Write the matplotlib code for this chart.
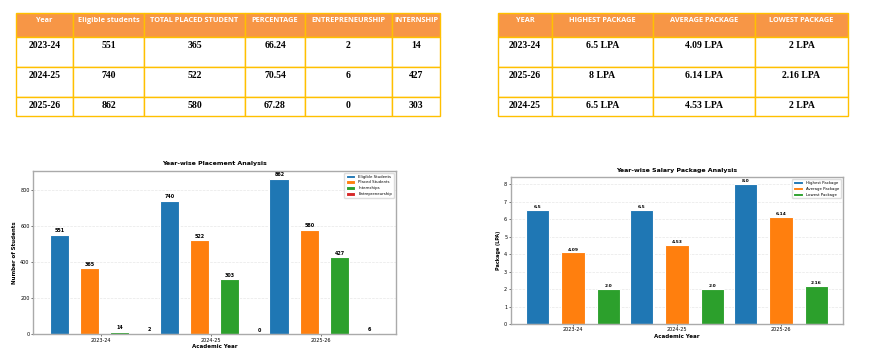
import numpy as np
import matplotlib.pyplot as plt
from matplotlib.patches import Rectangle

# placement table
years = ['2023-24', '2024-25', '2025-26']
eligible = [551, 740, 862]
placed = [365, 522, 580]
percentage = ['66.24', '70.54', '67.28']
entre_table = [2, 6, 0]
intern_table = [14, 427, 303]
place_headers = ['Year', 'Eligible students', 'TOTAL PLACED STUDENT', 'PERCENTAGE',
                 'ENTREPRENEURSHIP', 'INTERNSHIP']

# package table
pkg_years = ['2023-24', '2025-26', '2024-25']
pkg_high = ['6.5 LPA', '8 LPA', '6.5 LPA']
pkg_avg = ['4.09 LPA', '6.14 LPA', '4.53 LPA']
pkg_low = ['2 LPA', '2.16 LPA', '2 LPA']
pkg_headers = ['YEAR', 'HIGHEST PACKAGE', 'AVERAGE PACKAGE', 'LOWEST PACKAGE']

# chart data (as plotted)
chart_years = ['2023-24', '2024-25', '2025-26']
internships = [14, 303, 427]
entrepreneurship = [2, 0, 6]
high = [6.5, 6.5, 8.0]
avg = [4.09, 4.53, 6.14]
low = [2.0, 2.0, 2.16]

ORANGE = '#f79646'
GOLD = '#ffc000'

fig = plt.figure(figsize=(8.7, 3.6), dpi=100)

# overlay axes in pixel coordinates for the two tables
tax = fig.add_axes([0, 0, 1, 1])
tax.set_xlim(0, 870)
tax.set_ylim(360, 0)
tax.axis('off')


def draw_table(ax, col_edges, headers, rows, top=13, head_h=24, row_h=(30, 30, 19)):
    # header
    for i, h in enumerate(headers):
        x0, x1 = col_edges[i], col_edges[i + 1]
        ax.add_patch(Rectangle((x0, top), x1 - x0, head_h, facecolor=ORANGE,
                               edgecolor=GOLD, lw=1))
        ax.text((x0 + x1) / 2, top + 8, h, color='white', fontsize=5.3,
                ha='center', va='center', family='Open Sans', fontweight='bold')
    y = top + head_h
    for r, row in enumerate(rows):
        for i, val in enumerate(row):
            x0, x1 = col_edges[i], col_edges[i + 1]
            ax.add_patch(Rectangle((x0, y), x1 - x0, row_h[r], facecolor='white',
                                   edgecolor=GOLD, lw=1))
            ax.text((x0 + x1) / 2, y + 8, str(val), color='black', fontsize=7,
                    ha='center', va='center', family='Liberation Serif',
                    fontweight='bold')
        y += row_h[r]


place_rows = list(zip(years, eligible, placed, percentage, entre_table, intern_table))
draw_table(tax, [16, 73, 144, 245, 305, 392, 440], place_headers, place_rows)

pkg_rows = list(zip(pkg_years, pkg_high, pkg_avg, pkg_low))
draw_table(tax, [498, 552, 653, 755, 848], pkg_headers, pkg_rows)


def style_axes(ax):
    for s in ax.spines.values():
        s.set_color('#aaaaaa')
        s.set_linewidth(1.0)
    ax.grid(axis='y', linestyle='--', alpha=0.3, lw=0.5)
    ax.set_axisbelow(True)
    ax.tick_params(labelsize=3.5, length=1.5, width=0.4, pad=1)


# placement chart
ax1 = fig.add_axes([0.038, 0.072, 0.417, 0.453])
x = np.arange(len(chart_years))
series1 = [(eligible, 'Eligible Students', '#1f77b4'),
           (placed, 'Placed Students', '#ff7f0e'),
           (internships, 'Internships', '#2ca02c'),
           (entrepreneurship, 'Entrepreneurship', '#d62728')]
step = 0.273
for i, (vals, lab, col) in enumerate(series1):
    bars = ax1.bar(x + (i - 1.5) * step + 0.03, vals, 0.18, label=lab, color=col,
                   edgecolor='white', linewidth=0.8)
    for b, v in zip(bars, vals):
        ax1.text(b.get_x() + b.get_width() / 2, v + 8, str(v), ha='center',
                 va='bottom', fontsize=3.5, fontweight='bold')
ax1.set_xticks(x)
ax1.set_xticklabels(chart_years)
ax1.set_ylim(0, max(eligible) * 1.05)
ax1.set_title('Year-wise Placement Analysis', fontsize=4.5, fontweight='bold', pad=4)
ax1.set_xlabel('Academic Year', fontsize=4, fontweight='bold', labelpad=1)
ax1.set_ylabel('Number of Students', fontsize=4, fontweight='bold', labelpad=2)
style_axes(ax1)
ax1.legend(loc='upper right', fontsize=2.8, handlelength=2.5, handleheight=0.9,
           frameon=True, framealpha=1, edgecolor='#dddddd')

# package chart
ax2 = fig.add_axes([0.587, 0.1, 0.382, 0.408])
series2 = [(high, 'Highest Package', '#1f77b4'),
           (avg, 'Average Package', '#ff7f0e'),
           (low, 'Lowest Package', '#2ca02c')]
step2 = 0.34
for i, (vals, lab, col) in enumerate(series2):
    bars = ax2.bar(x + (i - 1) * step2, vals, 0.225, label=lab, color=col,
                   edgecolor='white', linewidth=0.8)
    for b, v in zip(bars, vals):
        ax2.text(b.get_x() + b.get_width() / 2, v + 0.05, f'{v:g}' if v != int(v) else f'{v:.1f}',
                 ha='center', va='bottom', fontsize=3.2, fontweight='bold')
ax2.set_xticks(x)
ax2.set_xticklabels(chart_years)
ax2.set_ylim(0, max(high) * 1.05)
ax2.set_title('Year-wise Salary Package Analysis', fontsize=4.5, fontweight='bold', pad=4)
ax2.set_xlabel('Academic Year', fontsize=4, fontweight='bold', labelpad=1)
ax2.set_ylabel('Package (LPA)', fontsize=3.5, fontweight='bold', labelpad=2)
style_axes(ax2)
ax2.legend(loc='upper right', fontsize=2.8, handlelength=2.5, handleheight=0.9,
           frameon=True, framealpha=1, edgecolor='#dddddd')

fig.savefig('out.png', dpi=100)
